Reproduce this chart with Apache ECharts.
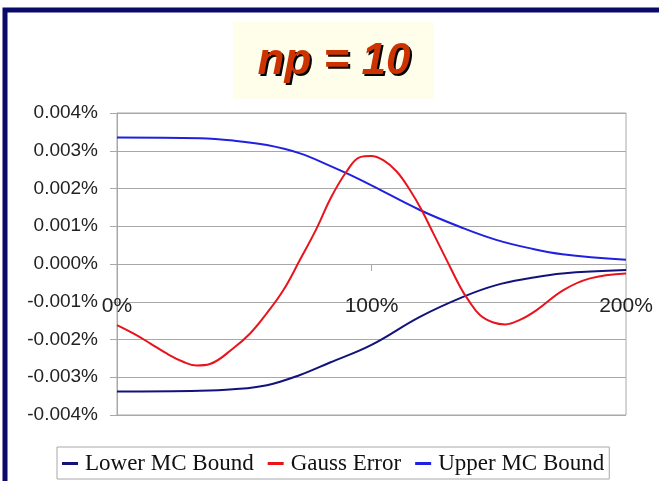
<!DOCTYPE html>
<html>
<head>
<meta charset="utf-8">
<script src="https://cdn.jsdelivr.net/npm/echarts@6/dist/echarts.min.js"></script>
<style>
html,body{margin:0;padding:0;background:#fff;}
#chart{width:659px;height:481px;}
</style>
</head>
<body>
<div id="chart"></div>
<script>
// Title
var titleText = 'np = 10';
// Series names
var seriesNames = ['Lower MC Bound', 'Gauss Error', 'Upper MC Bound'];
// X axis (percent of mean), tick labels
var xTicks = [0, 100, 200];
var yTicks = [-0.004, -0.003, -0.002, -0.001, 0, 0.001, 0.002, 0.003, 0.004];

// Lower MC Bound
var lowerX = [0, 32.6, 45.6, 58.9, 71.9, 83.7, 99.8, 119, 136, 149, 162, 175, 200];
var lowerY = [-0.00338, -0.00336, -0.00332, -0.00321, -0.00294, -0.00261, -0.00215, -0.00140, -0.00087, -0.00056, -0.00038, -0.00025, -0.00016];

// Gauss Error
var gaussX = [0, 6.4, 13, 19.5, 26, 31.3, 36.5, 45.7, 52.3, 58.8, 65.4, 71.9, 78.5, 84, 90.2, 95.5, 99.8, 104.6, 109.9, 115.1, 119.7, 124.3, 129.5, 134.8, 138, 142.6, 147.9, 152.5, 158.3, 164.9, 175.4, 185.9, 200];
var gaussY = [-0.00162, -0.00184, -0.00210, -0.00237, -0.00259, -0.00269, -0.00265, -0.00223, -0.00184, -0.00131, -0.00069, 0.00011, 0.00095, 0.00175, 0.00245, 0.00283, 0.00286, 0.00275, 0.00245, 0.00196, 0.00143, 0.00081, 0.00011, -0.00060, -0.00095, -0.00135, -0.00155, -0.00160, -0.00148, -0.00122, -0.00069, -0.00038, -0.00025];

// Upper MC Bound
var upperX = [0, 32.6, 45.6, 58.9, 71.9, 83.7, 91.6, 99.8, 119, 136, 149, 162, 175, 200];
var upperY = [0.00335, 0.00333, 0.00327, 0.00315, 0.00293, 0.00260, 0.00236, 0.00209, 0.00143, 0.00095, 0.00064, 0.00042, 0.00026, 0.00011];

function pairs(xs, ys) {
  return xs.map(function (x, i) { return [x, ys[i]]; });
}

var colors = ['#12127C', '#E8141C', '#2020E0'];
var gridColor = '#A8A8A8';
var titleFont = 'italic bold 44px "Liberation Sans", Arial, sans-serif';

var chart = echarts.init(document.getElementById('chart'), null, {renderer: 'canvas'});
var option = {
  backgroundColor: '#ffffff',
  animation: false,
  graphic: [
    {
      type: 'rect', z: 0,
      shape: {x: 5, y: 10, width: 800, height: 800},
      style: {fill: 'none', stroke: '#0A0A6A', lineWidth: 5}
    },
    {
      type: 'rect', z: 0,
      shape: {x: 233, y: 22, width: 201, height: 77},
      style: {fill: '#FFFEEA'}
    },
    {
      type: 'text', z: 1,
      x: 336, y: 64,
      style: {text: titleText, fill: '#000000', font: titleFont, align: 'center', verticalAlign: 'middle'}
    },
    {
      type: 'text', z: 2,
      x: 334, y: 62,
      style: {text: titleText, fill: '#CC3300', font: titleFont, align: 'center', verticalAlign: 'middle'}
    }
  ],
  grid: {
    left: 117, right: 33, top: 113, bottom: 66,
    containLabel: false, outerBoundsMode: 'none',
    show: true, borderColor: gridColor, borderWidth: 1, backgroundColor: 'transparent'
  },
  legend: {
    data: seriesNames,
    left: 57, top: 447,
    padding: [5, 5, 4, 5],
    borderColor: gridColor, borderWidth: 1,
    icon: 'rect', itemWidth: 16, itemHeight: 3,
    itemGap: 14,
    textStyle: {fontFamily: '"Liberation Serif", "Times New Roman", serif', fontSize: 23, color: '#111', padding: [0, 0, 0, 2]}
  },
  xAxis: {
    type: 'value', min: xTicks[0], max: xTicks[xTicks.length - 1], interval: 100,
    position: 'bottom', offset: -151,
    axisLine: {show: true, onZero: false, lineStyle: {color: gridColor, width: 1}},
    axisTick: {show: true, length: 7, inside: false, lineStyle: {color: gridColor}},
    splitLine: {show: false},
    axisLabel: {
      show: true, margin: 32, showMinLabel: true, showMaxLabel: true,
      fontFamily: '"Liberation Sans", Arial, sans-serif', fontSize: 21, color: '#222',
      formatter: function (v) { return v + '%'; }
    }
  },
  yAxis: {
    type: 'value', min: yTicks[0], max: yTicks[yTicks.length - 1], interval: 0.001,
    axisLine: {show: true, lineStyle: {color: gridColor, width: 1}},
    axisTick: {show: true, length: 7, lineStyle: {color: gridColor}},
    splitLine: {show: true, lineStyle: {color: gridColor, width: 1}},
    axisLabel: {
      margin: 19,
      fontFamily: '"Liberation Sans", Arial, sans-serif', fontSize: 19, color: '#222',
      formatter: function (v) { return v.toFixed(3) + '%'; }
    }
  },
  series: [
    {name: seriesNames[0], type: 'line', data: pairs(lowerX, lowerY), smooth: 0.4, symbol: 'none',
     lineStyle: {color: colors[0], width: 2}, itemStyle: {color: colors[0]}, z: 3},
    {name: seriesNames[1], type: 'line', data: pairs(gaussX, gaussY), smooth: 0.4, symbol: 'none',
     lineStyle: {color: colors[1], width: 2}, itemStyle: {color: colors[1]}, z: 4},
    {name: seriesNames[2], type: 'line', data: pairs(upperX, upperY), smooth: 0.4, symbol: 'none',
     lineStyle: {color: colors[2], width: 2}, itemStyle: {color: colors[2]}, z: 3}
  ]
};
chart.setOption(option);
</script>
</body>
</html>
